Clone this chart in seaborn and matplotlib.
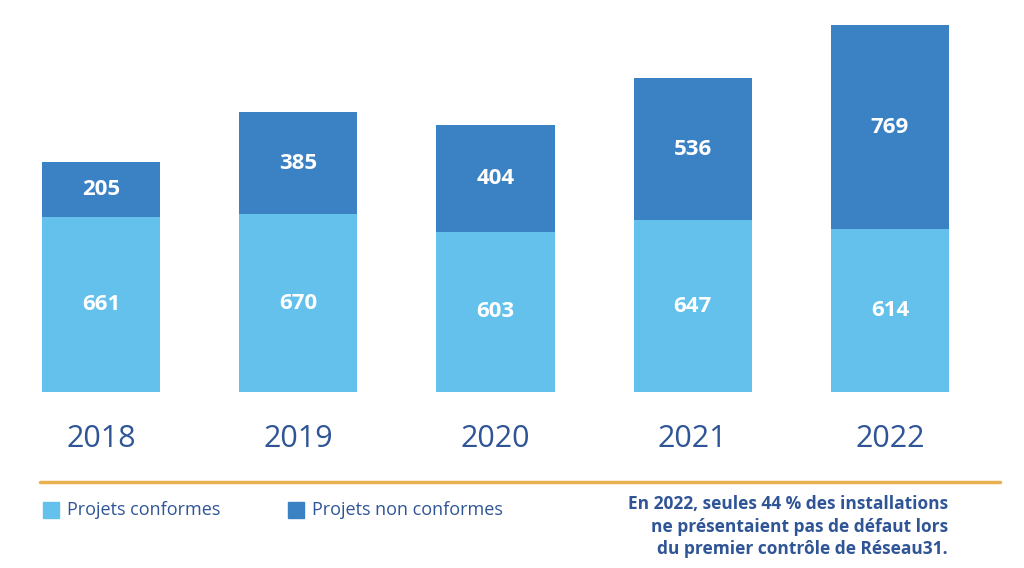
import pandas as pd
import matplotlib.pyplot as plt
import seaborn as sns

# Données
annees = ["2018", "2019", "2020", "2021", "2022"]
conformes = [661, 670, 603, 647, 614]
non_conformes = [205, 385, 404, 536, 769]

df = pd.DataFrame({"annee": annees, "conformes": conformes, "non_conformes": non_conformes})
df["total"] = df["conformes"] + df["non_conformes"]

clair = "#63c1ec"
fonce = "#3b82c4"
texte = "#2f5596"

sns.set_theme(style="white")
plt.rcParams["font.family"] = ["Open Sans", "DejaVu Sans"]

fig = plt.figure(figsize=(10.24, 5.68), dpi=100)
ax = fig.add_axes([2.5 / 1024, 1 - 392 / 568, 986 / 1024, 367 / 568])

# Barres empilées : total (foncé) puis conformes (clair) par-dessus
sns.barplot(data=df, x="annee", y="total", color=fonce, width=0.6, saturation=1,
            linewidth=0, ax=ax)
sns.barplot(data=df, x="annee", y="conformes", color=clair, width=0.6, saturation=1,
            linewidth=0, ax=ax)

ax.set_ylim(0, df["total"].max())
ax.set_xlim(-0.5, 4.5)
ax.set_xlabel("")
ax.set_ylabel("")
ax.set_yticks([])
ax.set_xticks([])
sns.despine(ax=ax, left=True, bottom=True)

# Étiquettes de valeurs
for i, row in df.iterrows():
    ax.text(i, row["conformes"] / 2, str(row["conformes"]), ha="center", va="center",
            color="white", fontsize=16, fontweight="bold")
    ax.text(i, row["conformes"] + row["non_conformes"] / 2, str(row["non_conformes"]),
            ha="center", va="center", color="white", fontsize=16, fontweight="bold")
    ax.annotate(row["annee"], xy=(i, 0), xytext=(0, -34), textcoords="offset points",
                ha="center", va="center", color=texte, fontsize=22)

# Ligne de séparation
fig.add_artist(plt.Line2D([40 / 1024, 1000 / 1024], [1 - 482 / 568, 1 - 482 / 568],
                          color="#e8b04f", linewidth=2.5))

# Légende
for x0, lab, col in [(43, "Projets conformes", clair), (288, "Projets non conformes", fonce)]:
    fig.patches.append(plt.Rectangle((x0 / 1024, 1 - 518 / 568), 16 / 1024, 16 / 568,
                                     transform=fig.transFigure, color=col, figure=fig))
    fig.text((x0 + 24) / 1024, 1 - 510 / 568, lab, ha="left", va="center",
             color=texte, fontsize=13)

note = ["En 2022, seules 44 % des installations",
        "ne présentaient pas de défaut lors",
        "du premier contrôle de Réseau31."]
for k, ligne in enumerate(note):
    fig.text(948 / 1024, 1 - (504 + 22.5 * k) / 568, ligne, ha="right", va="center",
             color=texte, fontsize=12.5, fontweight="bold")

fig.savefig("out.png", dpi=100)
